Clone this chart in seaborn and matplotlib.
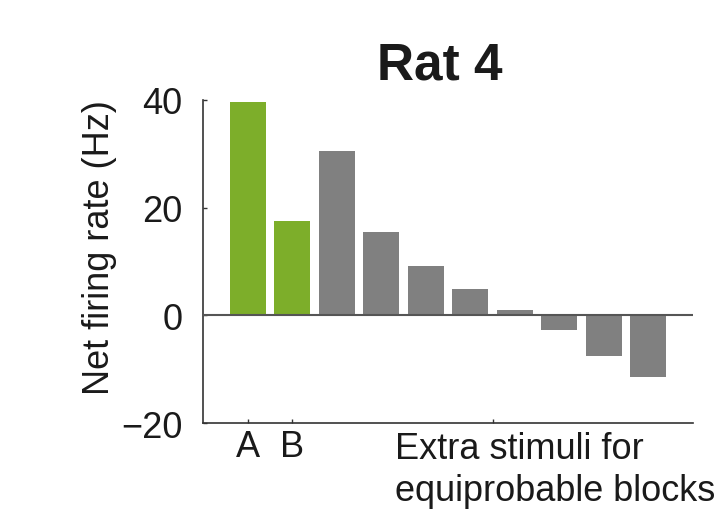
import matplotlib
matplotlib.use("Agg")
import matplotlib.pyplot as plt
import seaborn as sns
import pandas as pd

# Net firing rate per stimulus (Hz)
stimuli = ["A", "B", "E1", "E2", "E3", "E4", "E5", "E6", "E7", "E8"]
rates = [39.6, 17.5, 30.5, 15.4, 9.2, 4.8, 0.9, -2.7, -7.6, -11.5]
groups = ["target", "target"] + ["extra"] * 8
tick_labels = ["A", "B", ""]

palette = {"target": "#7DAE2A", "extra": "#808080"}

sns.set_theme(style="white")
plt.rcParams["font.family"] = ["Liberation Sans", "DejaVu Sans"]

df = pd.DataFrame({"stimulus": stimuli, "rate": rates, "group": groups})

fig = plt.figure(figsize=(7.27, 5.10), dpi=100)
ax = fig.add_axes([203 / 727, 1 - 424 / 510, 490 / 727, 323 / 510])

sns.barplot(data=df, x="stimulus", y="rate", hue="group", palette=palette,
            order=stimuli, dodge=False, width=0.81, legend=False, ax=ax,
            saturation=1, linewidth=0)

ax.axhline(0, color="#555555", lw=1.5, zorder=3)

ax.set_xlim(-1, 10)
ax.set_ylim(-20, 40)
ax.set_yticks([-20, 0, 20, 40])
ax.set_yticklabels(["\u221220", "0", "20", "40"])
ax.set_xticks([0, 1, 5.5])
ax.set_xticklabels(tick_labels)

for side in ("top", "right"):
    ax.spines[side].set_visible(False)
for side in ("left", "bottom"):
    ax.spines[side].set_color("#333333")
    ax.spines[side].set_linewidth(1.2)

ax.tick_params(axis="both", direction="in", length=3.2, width=1.0,
               bottom=True, left=True,
               colors="#333333", labelcolor="#1a1a1a", labelsize=26)
ax.tick_params(axis="y", pad=15)
ax.tick_params(axis="x", pad=4)

ax.set_xlabel("")
ax.set_ylabel("Net firing rate (Hz)", fontsize=26, color="#1a1a1a")
ax.yaxis.set_label_coords(-0.175, 0.546)

ax.text(0.392, -0.025, "Extra stimuli for\nequiprobable blocks",
        transform=ax.transAxes, ha="left", va="top", fontsize=26,
        color="#1a1a1a", linespacing=1.26)

ax.text(0.484, 1.068, "Rat 4", transform=ax.transAxes, ha="center",
        va="baseline", fontsize=37, fontweight="bold", color="#1a1a1a")

fig.savefig("out.png", dpi=100)
